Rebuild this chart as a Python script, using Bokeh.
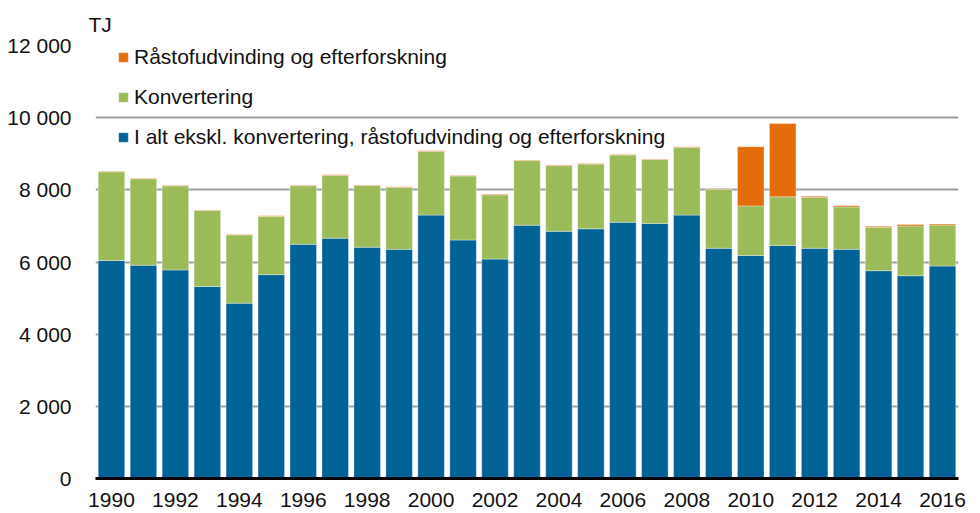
from bokeh.plotting import figure
from bokeh.models import ColumnDataSource, Legend, LegendItem, FixedTicker, CustomJSTickFormatter, Range1d, Title
from bokeh.embed import file_html
from bokeh.resources import INLINE

years = list(range(1990, 2017))
blue = [6040, 5910, 5780, 5320, 4860, 5650, 6490, 6660, 6410, 6350, 7300, 6610, 6080, 7020,
        6850, 6920, 7100, 7070, 7300, 6380, 6180, 6460, 6380, 6350, 5760, 5620, 5890]
green_top = [8500, 8305, 8110, 7425, 6750, 7265, 8115, 8400, 8120, 8070, 9065, 8385, 7860, 8810,
             8670, 8715, 8965, 8840, 9180, 8015, 7555, 7805, 7795, 7525, 6960, 7000, 7025]
green = [g - b for g, b in zip(green_top, blue)]
orange = [15, 15, 15, 15, 15, 15, 15, 15, 15, 15, 15, 15, 15, 15,
          15, 15, 15, 15, 15, 15, 1640, 2030, 30, 35, 30, 40, 30]

labels = ["I alt ekskl. konvertering, råstofudvinding og efterforskning",
          "Konvertering",
          "Råstofudvinding og efterforskning"]
colors = ["#006295", "#9BBB59", "#E46C0A"]
y_ticks = [0, 2000, 4000, 6000, 8000, 10000, 12000]
x_ticks = list(range(1990, 2017, 2))

src = ColumnDataSource(dict(year=years, blue=blue, green=green, orange=orange))

FONT = "Liberation Sans"
FS = "21px"
p = figure(width=970, height=510, output_backend="svg", toolbar_location=None,
           x_range=Range1d(1989.5, 2016.5), y_range=Range1d(0, 12000),
           min_border_left=95, min_border_right=12, min_border_top=45, min_border_bottom=32)
p.outline_line_color = None
p.background_fill_color = "white"

rs = p.vbar_stack(["blue", "green", "orange"], x="year", width=0.83, source=src,
                  color=colors, line_color="white", line_alpha=0.35, line_width=1)

p.xgrid.grid_line_color = None
p.ygrid.grid_line_color = "#A0A0A0"
p.ygrid.grid_line_width = 2
p.ygrid.ticker = FixedTicker(ticks=y_ticks[1:])

p.yaxis.ticker = FixedTicker(ticks=y_ticks)
p.yaxis.formatter = CustomJSTickFormatter(code="""
var s = Math.round(tick).toString();
return s.replace(/\\B(?=(\\d{3})+(?!\\d))/g, ' ');
""")
p.yaxis.axis_line_color = None
p.yaxis.major_tick_line_color = None
p.yaxis.minor_tick_line_color = None
p.yaxis.major_label_standoff = 18
p.yaxis.major_label_text_font = FONT
p.yaxis.major_label_text_font_size = FS
p.yaxis.major_label_text_color = "#111111"

p.xaxis.ticker = FixedTicker(ticks=x_ticks)
p.xaxis.axis_line_color = "black"
p.xaxis.axis_line_width = 3
p.xaxis.major_tick_line_color = None
p.xaxis.minor_tick_line_color = None
p.xaxis.major_label_standoff = 8
p.xaxis.major_label_text_font = FONT
p.xaxis.major_label_text_font_size = FS
p.xaxis.major_label_text_color = "#111111"

items = [LegendItem(label=labels[2], renderers=[rs[2]]),
         LegendItem(label=labels[1], renderers=[rs[1]]),
         LegendItem(label=labels[0], renderers=[rs[0]])]
legend = Legend(items=items, location=(22, 329), orientation="vertical",
                background_fill_alpha=0, border_line_color=None,
                glyph_width=12, glyph_height=12, label_height=24, spacing=16,
                label_standoff=5, padding=0, margin=0,
                label_text_font=FONT, label_text_font_size=FS, label_text_color="#111111")
p.add_layout(legend, "center")

p.title = Title(text="TJ", align="left", offset=-7, standoff=20,
                text_font=FONT, text_font_size=FS, text_font_style="normal",
                text_color="#111111")

open("out.html", "w").write(file_html(p, INLINE))
